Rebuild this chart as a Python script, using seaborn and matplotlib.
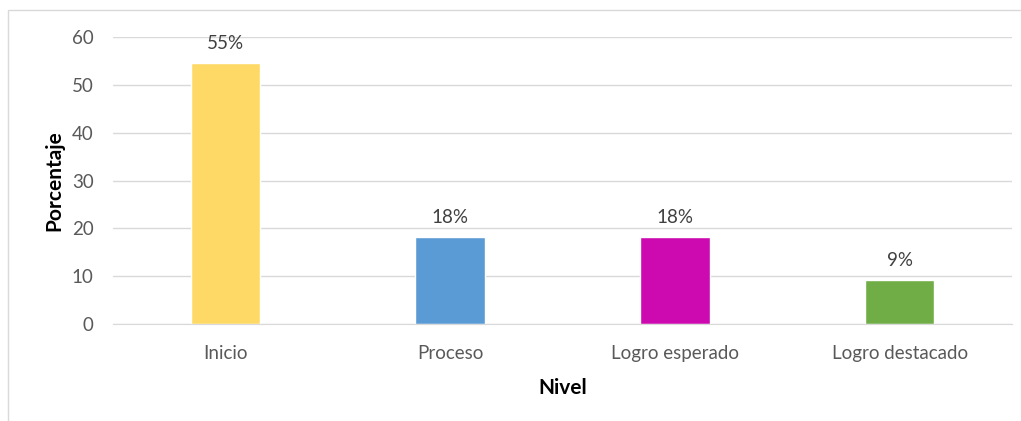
import matplotlib
matplotlib.use("Agg")
import matplotlib.pyplot as plt
import seaborn as sns
import pandas as pd
from matplotlib.patches import Rectangle

niveles = ["Inicio", "Proceso", "Logro esperado", "Logro destacado"]
porcentajes = [54.5, 18.2, 18.2, 9.1]
etiquetas = ["55%", "18%", "18%", "9%"]
colores = ["#FFD966", "#5B9BD5", "#CC0AAF", "#70AD47"]

sns.set_style("white")
plt.rcParams["font.family"] = ["Lato", "DejaVu Sans"]

df = pd.DataFrame({"Nivel": niveles, "Porcentaje": porcentajes})

fig = plt.figure(figsize=(10.21, 4.21), dpi=100)
ax = fig.add_axes([113 / 1021, 1 - 324 / 421, 899 / 1021, 287 / 421])

sns.barplot(data=df, x="Nivel", y="Porcentaje", hue="Nivel", palette=colores,
            width=0.31, legend=False, ax=ax, saturation=1)

ax.set_ylim(0, 60)
ax.set_yticks(range(0, 61, 10))
ax.yaxis.grid(True, color="#D9D9D9", linewidth=1)
ax.set_axisbelow(True)
for s in ["top", "right", "left"]:
    ax.spines[s].set_visible(False)
ax.spines["bottom"].set_color("#D9D9D9")
ax.tick_params(axis="both", colors="#595959", labelsize=13.5, length=0)
ax.tick_params(axis="x", pad=15)
ax.tick_params(axis="y", pad=14)

for i, c in enumerate(ax.containers):
    ax.bar_label(c, labels=[etiquetas[i]], padding=8, color="#404040", fontsize=13.5)

ax.set_xlabel("Nivel", fontweight="bold", fontsize=15, color="black", labelpad=12)
ax.set_ylabel("Porcentaje", fontweight="bold", fontsize=15, color="black", labelpad=5)

fig.patches.append(Rectangle((8 / 1021, -0.1), 1.2, 1 - 10 / 421 + 0.1,
                             transform=fig.transFigure, fill=False,
                             edgecolor="#D9D9D9", linewidth=1))

fig.savefig("out.png", dpi=100)
